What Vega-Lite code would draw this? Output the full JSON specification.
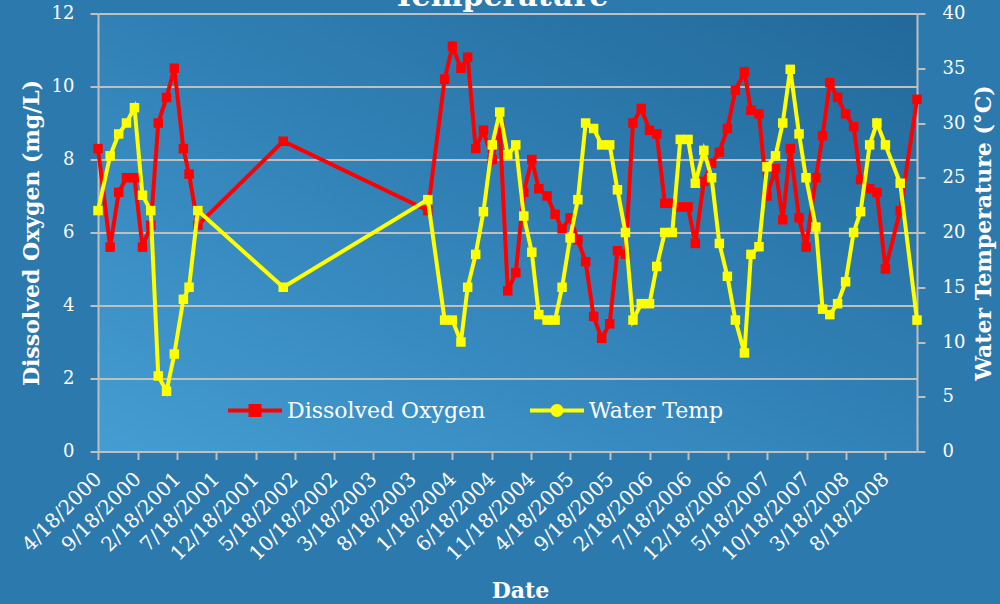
{
  "$schema": "https://vega.github.io/schema/vega-lite/v6.json",
  "width": 819,
  "height": 438,
  "autosize": {"type": "none"},
  "padding": {"left": 98, "top": 13.5, "right": 83, "bottom": 152.5},
  "background": "#2b79ad",
  "title": {
    "text": "Temperature",
    "font": "DejaVu Serif",
    "fontSize": 30,
    "fontWeight": "bold",
    "color": "white",
    "anchor": "middle",
    "baseline": "alphabetic",
    "offset": 0,
    "dx": -7,
    "dy": 31
  },
  "data": {
    "values": [
      {"date": "2000-04-18", "DO": 8.3, "Temp": 22.0},
      {"date": "2000-06-04", "DO": 5.6, "Temp": 27.0},
      {"date": "2000-07-07", "DO": 7.1, "Temp": 29.0},
      {"date": "2000-08-06", "DO": 7.5, "Temp": 30.0},
      {"date": "2000-09-06", "DO": 7.5, "Temp": 31.4},
      {"date": "2000-10-07", "DO": 5.6, "Temp": 23.4},
      {"date": "2000-11-08", "DO": 6.2, "Temp": 22.0},
      {"date": "2000-12-07", "DO": 9.0, "Temp": 6.9},
      {"date": "2001-01-08", "DO": 9.7, "Temp": 5.5},
      {"date": "2001-02-07", "DO": 10.5, "Temp": 8.9},
      {"date": "2001-03-14", "DO": 8.3, "Temp": 13.9},
      {"date": "2001-04-05", "DO": 7.6, "Temp": 15.0},
      {"date": "2001-05-09", "DO": 6.2, "Temp": 22.0},
      {"date": "2002-04-04", "DO": 8.5, "Temp": 15.0},
      {"date": "2003-10-15", "DO": 6.6, "Temp": 23.0},
      {"date": "2003-12-19", "DO": 10.2, "Temp": 12.0},
      {"date": "2004-01-18", "DO": 11.1, "Temp": 12.0},
      {"date": "2004-02-20", "DO": 10.5, "Temp": 10.0},
      {"date": "2004-03-17", "DO": 10.8, "Temp": 15.0},
      {"date": "2004-04-17", "DO": 8.3, "Temp": 18.0},
      {"date": "2004-05-17", "DO": 8.8, "Temp": 21.9},
      {"date": "2004-06-20", "DO": 8.0, "Temp": 28.0},
      {"date": "2004-07-19", "DO": 8.9, "Temp": 31.0},
      {"date": "2004-08-19", "DO": 4.4, "Temp": 27.1},
      {"date": "2004-09-19", "DO": 4.9, "Temp": 28.0},
      {"date": "2004-10-20", "DO": 7.1, "Temp": 21.5},
      {"date": "2004-11-20", "DO": 8.0, "Temp": 18.2},
      {"date": "2004-12-17", "DO": 7.2, "Temp": 12.5},
      {"date": "2005-01-18", "DO": 7.0, "Temp": 12.0},
      {"date": "2005-02-18", "DO": 6.5, "Temp": 12.0},
      {"date": "2005-03-17", "DO": 6.1, "Temp": 15.0},
      {"date": "2005-04-17", "DO": 6.4, "Temp": 19.5},
      {"date": "2005-05-17", "DO": 5.8, "Temp": 23.0},
      {"date": "2005-06-16", "DO": 5.2, "Temp": 30.0},
      {"date": "2005-07-17", "DO": 3.7, "Temp": 29.5},
      {"date": "2005-08-17", "DO": 3.1, "Temp": 28.0},
      {"date": "2005-09-17", "DO": 3.5, "Temp": 28.0},
      {"date": "2005-10-17", "DO": 5.5, "Temp": 23.9},
      {"date": "2005-11-17", "DO": 5.4, "Temp": 20.0},
      {"date": "2005-12-16", "DO": 9.0, "Temp": 12.0},
      {"date": "2006-01-17", "DO": 9.4, "Temp": 13.5},
      {"date": "2006-02-18", "DO": 8.8, "Temp": 13.5},
      {"date": "2006-03-18", "DO": 8.7, "Temp": 16.9},
      {"date": "2006-04-18", "DO": 6.8, "Temp": 20.0},
      {"date": "2006-05-17", "DO": 6.8, "Temp": 20.0},
      {"date": "2006-06-17", "DO": 6.7, "Temp": 28.5},
      {"date": "2006-07-17", "DO": 6.7, "Temp": 28.5},
      {"date": "2006-08-14", "DO": 5.7, "Temp": 24.5},
      {"date": "2006-09-16", "DO": 7.4, "Temp": 27.5},
      {"date": "2006-10-16", "DO": 7.9, "Temp": 25.0},
      {"date": "2006-11-15", "DO": 8.2, "Temp": 19.0},
      {"date": "2006-12-16", "DO": 8.85, "Temp": 16.0},
      {"date": "2007-01-16", "DO": 9.9, "Temp": 12.0},
      {"date": "2007-02-20", "DO": 10.4, "Temp": 9.0},
      {"date": "2007-03-17", "DO": 9.35, "Temp": 18.0},
      {"date": "2007-04-17", "DO": 9.25, "Temp": 18.7},
      {"date": "2007-05-18", "DO": 7.0, "Temp": 26.0},
      {"date": "2007-06-20", "DO": 7.75, "Temp": 27.0},
      {"date": "2007-07-18", "DO": 6.35, "Temp": 30.0},
      {"date": "2007-08-16", "DO": 8.3, "Temp": 34.9},
      {"date": "2007-09-19", "DO": 6.4, "Temp": 29.0},
      {"date": "2007-10-16", "DO": 5.6, "Temp": 25.0},
      {"date": "2007-11-23", "DO": 7.5, "Temp": 20.5},
      {"date": "2007-12-19", "DO": 8.65, "Temp": 13.0},
      {"date": "2008-01-16", "DO": 10.1, "Temp": 12.5},
      {"date": "2008-02-15", "DO": 9.7, "Temp": 13.5},
      {"date": "2008-03-17", "DO": 9.25, "Temp": 15.5},
      {"date": "2008-04-17", "DO": 8.9, "Temp": 20.0},
      {"date": "2008-05-14", "DO": 7.45, "Temp": 21.9},
      {"date": "2008-06-18", "DO": 7.2, "Temp": 28.0},
      {"date": "2008-07-16", "DO": 7.1, "Temp": 30.0},
      {"date": "2008-08-18", "DO": 5.0, "Temp": 28.0},
      {"date": "2008-10-14", "DO": 6.6, "Temp": 24.5},
      {"date": "2008-12-18", "DO": 9.65, "Temp": 12.0}
    ]
  },
  "encoding": {
    "x": {
      "field": "date",
      "type": "temporal",
      "scale": {
        "type": "utc",
        "domain": [
          {"year": 2000, "month": 4, "date": 18, "utc": true},
          {"year": 2008, "month": 12, "date": 18, "utc": true}
        ]
      },
      "axis": {
        "values": [
          {"year": 2000, "month": 4, "date": 18, "utc": true},
          {"year": 2000, "month": 9, "date": 18, "utc": true},
          {"year": 2001, "month": 2, "date": 18, "utc": true},
          {"year": 2001, "month": 7, "date": 18, "utc": true},
          {"year": 2001, "month": 12, "date": 18, "utc": true},
          {"year": 2002, "month": 5, "date": 18, "utc": true},
          {"year": 2002, "month": 10, "date": 18, "utc": true},
          {"year": 2003, "month": 3, "date": 18, "utc": true},
          {"year": 2003, "month": 8, "date": 18, "utc": true},
          {"year": 2004, "month": 1, "date": 18, "utc": true},
          {"year": 2004, "month": 6, "date": 18, "utc": true},
          {"year": 2004, "month": 11, "date": 18, "utc": true},
          {"year": 2005, "month": 4, "date": 18, "utc": true},
          {"year": 2005, "month": 9, "date": 18, "utc": true},
          {"year": 2006, "month": 2, "date": 18, "utc": true},
          {"year": 2006, "month": 7, "date": 18, "utc": true},
          {"year": 2006, "month": 12, "date": 18, "utc": true},
          {"year": 2007, "month": 5, "date": 18, "utc": true},
          {"year": 2007, "month": 10, "date": 18, "utc": true},
          {"year": 2008, "month": 3, "date": 18, "utc": true},
          {"year": 2008, "month": 8, "date": 18, "utc": true}
        ],
        "format": "%-m/%-d/%Y",
        "labelAngle": -45,
        "labelAlign": "right",
        "labelBaseline": "middle",
        "labelPadding": 16,
        "labelOverlap": false,
        "labelFlush": false,
        "labelBound": false,
        "labelFontSize": 20,
        "grid": false,
        "tickSize": 8,
        "title": "Date",
        "titleX": 422,
        "titleY": 146,
        "titleAlign": "center",
        "titleBaseline": "alphabetic",
        "titleFontSize": 22
      }
    }
  },
  "layer": [
    {
      "mark": {
        "type": "line",
        "strokeWidth": 4,
        "point": {"shape": "square", "size": 90, "filled": true}
      },
      "encoding": {
        "y": {
          "field": "DO",
          "type": "quantitative",
          "scale": {"domain": [0, 12], "nice": false, "zero": true},
          "axis": {
            "title": "Dissolved Oxygen (mg/L)",
            "values": [0, 2, 4, 6, 8, 10, 12],
            "grid": true,
            "tickSize": 8,
            "labelPadding": 16,
            "labelFontSize": 18,
            "titleAngle": -90,
            "titleX": -60,
            "titleY": 219,
            "titleAlign": "center",
            "titleBaseline": "alphabetic",
            "titleFontSize": 22
          }
        },
        "color": {
          "datum": "Dissolved Oxygen",
          "type": "nominal",
          "scale": {"domain": ["Dissolved Oxygen", "Water Temp"], "range": ["#ff0000", "#ffff00"]},
          "legend": {
            "orient": "none",
            "legendX": 130,
            "legendY": 370,
            "direction": "horizontal",
            "title": null,
            "labelFont": "DejaVu Serif",
            "labelFontSize": 22,
            "labelColor": "white",
            "labelLimit": 0,
            "labelOffset": 5,
            "columnPadding": 44,
            "symbolSize": 2916,
            "encoding": {
              "symbols": {
                "shape": {"value": {"expr": "datum.value === 'Water Temp' ? 'M-1,-0.075H1V0.075H-1Z M-0.24,0A0.24,0.24 0 1,1 0.24,0A0.24,0.24 0 1,1 -0.24,0Z' : 'M-1,-0.075H1V0.075H-1Z M-0.24,-0.24H0.24V0.24H-0.24Z'"}},
                "fill": {"value": {"expr": "datum.value === 'Water Temp' ? '#ffff00' : '#ff0000'"}},
                "fillOpacity": {"value": 1},
                "stroke": {"value": "transparent"},
                "strokeWidth": {"value": 0}
              }
            }
          }
        }
      }
    },
    {
      "mark": {
        "type": "line",
        "strokeWidth": 4,
        "point": {"shape": "square", "size": 90, "filled": true}
      },
      "encoding": {
        "y": {
          "field": "Temp",
          "type": "quantitative",
          "scale": {"domain": [0, 40], "nice": false, "zero": true},
          "axis": {
            "orient": "right",
            "title": "Water Temperature (°C)",
            "values": [0, 5, 10, 15, 20, 25, 30, 35, 40],
            "grid": false,
            "tickSize": 8,
            "labelPadding": 17,
            "labelFontSize": 18,
            "titleAngle": -90,
            "titleX": 73,
            "titleY": 219,
            "titleAlign": "center",
            "titleBaseline": "alphabetic",
            "titleFontSize": 22
          }
        },
        "color": {
          "datum": "Water Temp",
          "type": "nominal",
          "legend": {
            "orient": "none",
            "legendX": 130,
            "legendY": 370,
            "direction": "horizontal",
            "title": null,
            "labelFont": "DejaVu Serif",
            "labelFontSize": 22,
            "labelColor": "white",
            "labelLimit": 0,
            "labelOffset": 5,
            "columnPadding": 44,
            "symbolSize": 2916,
            "encoding": {
              "symbols": {
                "shape": {"value": {"expr": "datum.value === 'Water Temp' ? 'M-1,-0.075H1V0.075H-1Z M-0.24,0A0.24,0.24 0 1,1 0.24,0A0.24,0.24 0 1,1 -0.24,0Z' : 'M-1,-0.075H1V0.075H-1Z M-0.24,-0.24H0.24V0.24H-0.24Z'"}},
                "fill": {"value": {"expr": "datum.value === 'Water Temp' ? '#ffff00' : '#ff0000'"}},
                "fillOpacity": {"value": 1},
                "stroke": {"value": "transparent"},
                "strokeWidth": {"value": 0}
              }
            }
          }
        }
      }
    }
  ],
  "resolve": {"scale": {"y": "independent"}},
  "config": {
    "view": {
      "stroke": null,
      "fill": {
        "gradient": "linear",
        "x1": 0, "y1": 1, "x2": 1, "y2": 0,
        "stops": [
          {"offset": 0, "color": "#449dd2"},
          {"offset": 0.5, "color": "#3181b6"},
          {"offset": 1, "color": "#22699a"}
        ]
      }
    },
    "axis": {
      "domainColor": "#bfbfbf",
      "domainWidth": 2,
      "tickColor": "#bfbfbf",
      "tickWidth": 2,
      "gridColor": "#bfbfbf",
      "gridWidth": 2,
      "gridOpacity": 1,
      "labelColor": "white",
      "labelFont": "DejaVu Serif",
      "titleColor": "white",
      "titleFont": "DejaVu Serif",
      "titleFontWeight": "bold"
    }
  }
}
